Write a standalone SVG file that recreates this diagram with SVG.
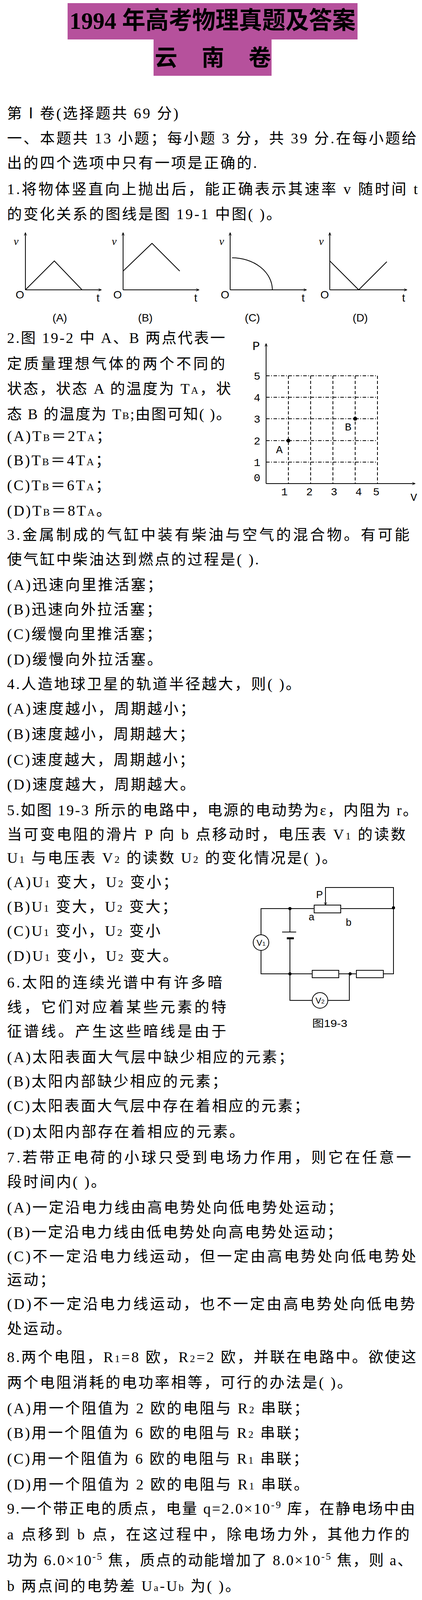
<svg xmlns="http://www.w3.org/2000/svg" width="1080" height="4303" viewBox="0 0 1080 4303">
<style>
.t{font-family:"Liberation Serif","Noto Sans CJK SC",serif;font-size:38px;letter-spacing:4px;fill:#000}
.s{font-size:26px}
.ln{stroke:#000;stroke-width:2;fill:none}
.lb{font-family:"Liberation Sans","Noto Sans CJK SC",sans-serif;font-size:28px;fill:#000}
.hd{stroke:#000;stroke-width:2;stroke-dasharray:9 4 2 4;fill:none}
.vd{stroke:#000;stroke-width:2;stroke-dasharray:8 5;fill:none}
</style>
<defs>
<marker id="ar" viewBox="0 0 10 10" refX="9" refY="5" markerWidth="8" markerHeight="8" orient="auto" markerUnits="userSpaceOnUse"><path d="M0,1 L10,5 L0,9" fill="none" stroke="#000" stroke-width="1.5"/></marker>
</defs>
<rect width="1080" height="4303" fill="#fff"/>
<g id="title">
<rect x="173" y="8" width="742" height="93" fill="#b6519c"/>
<rect x="393" y="100" width="302" height="94" fill="#b6519c"/>
<text x="178" y="74" font-family="'Liberation Serif','Noto Sans CJK SC',serif" font-weight="bold" font-size="62" textLength="732" lengthAdjust="spacingAndGlyphs">1994 年高考物理真题及答案</text>
<text x="396" y="168" font-family="'Noto Sans CJK SC',sans-serif" font-weight="bold" font-size="58" textLength="298" lengthAdjust="spacing">云 南 卷</text>
</g>
<g id="body">
<text class="t" x="18" y="303">第Ⅰ卷(选择题共 69 分)</text>
<text class="t" x="18" y="367" textLength="1052" lengthAdjust="spacing">一、本题共 13 小题；每小题 3 分，共 39 分.在每小题给</text>
<text class="t" x="18" y="430">出的四个选项中只有一项是正确的.</text>
<text class="t" x="18" y="497" textLength="1055" lengthAdjust="spacing">1.将物体竖直向上抛出后，能正确表示其速率 v 随时间 t</text>
<text class="t" x="18" y="561">的变化关系的图线是图 19-1 中图( )。</text>
<text class="t" x="18" y="878" textLength="562" lengthAdjust="spacing">2.图 19-2 中 A、B 两点代表一</text>
<text class="t" x="18" y="944" textLength="562" lengthAdjust="spacing">定质量理想气体的两个不同的</text>
<text class="t" x="18" y="1008" textLength="577" lengthAdjust="spacing">状态，状态 A 的温度为 T<tspan class="s">A</tspan>，状</text>
<text class="t" x="18" y="1073" textLength="577" lengthAdjust="spacing">态 B 的温度为 T<tspan class="s">B</tspan>;由图可知( )。</text>
<text class="t" x="18" y="1129">(A)T<tspan class="s">B</tspan>＝2T<tspan class="s">A</tspan>；</text>
<text class="t" x="18" y="1191">(B)T<tspan class="s">B</tspan>＝4T<tspan class="s">A</tspan>；</text>
<text class="t" x="18" y="1255">(C)T<tspan class="s">B</tspan>＝6T<tspan class="s">A</tspan>；</text>
<text class="t" x="18" y="1320">(D)T<tspan class="s">B</tspan>＝8T<tspan class="s">A</tspan>。</text>
<text class="t" x="18" y="1382" textLength="1034" lengthAdjust="spacing">3.金属制成的气缸中装有柴油与空气的混合物。有可能</text>
<text class="t" x="18" y="1445">使气缸中柴油达到燃点的过程是( ).</text>
<text class="t" x="18" y="1510">(A)迅速向里推活塞；</text>
<text class="t" x="18" y="1573">(B)迅速向外拉活塞；</text>
<text class="t" x="18" y="1636">(C)缓慢向里推活塞；</text>
<text class="t" x="18" y="1701">(D)缓慢向外拉活塞。</text>
<text class="t" x="18" y="1764">4.人造地球卫星的轨道半径越大，则( )。</text>
<text class="t" x="18" y="1827">(A)速度越小，周期越小；</text>
<text class="t" x="18" y="1892">(B)速度越小，周期越大；</text>
<text class="t" x="18" y="1958">(C)速度越大，周期越小；</text>
<text class="t" x="18" y="2021">(D)速度越大，周期越大。</text>
<text class="t" x="18" y="2087" textLength="1055" lengthAdjust="spacing">5.如图 19-3 所示的电路中，电源的电动势为ε，内阻为 r。</text>
<text class="t" x="18" y="2149" textLength="1024" lengthAdjust="spacing">当可变电阻的滑片 P 向 b 点移动时，电压表 V<tspan class="s">1</tspan> 的读数</text>
<text class="t" x="18" y="2209">U<tspan class="s">1</tspan> 与电压表 V<tspan class="s">2</tspan> 的读数 U<tspan class="s">2</tspan> 的变化情况是( )。</text>
<text class="t" x="18" y="2271">(A)U<tspan class="s">1</tspan> 变大，U<tspan class="s">2</tspan> 变小；</text>
<text class="t" x="18" y="2334">(B)U<tspan class="s">1</tspan> 变大，U<tspan class="s">2</tspan> 变大；</text>
<text class="t" x="18" y="2396">(C)U<tspan class="s">1</tspan> 变小，U<tspan class="s">2</tspan> 变小</text>
<text class="t" x="18" y="2460">(D)U<tspan class="s">1</tspan> 变小，U<tspan class="s">2</tspan> 变大。</text>
<text class="t" x="18" y="2528" textLength="555" lengthAdjust="spacing">6.太阳的连续光谱中有许多暗</text>
<text class="t" x="18" y="2591" textLength="565" lengthAdjust="spacing">线，它们对应着某些元素的特</text>
<text class="t" x="18" y="2653" textLength="565" lengthAdjust="spacing">征谱线。产生这些暗线是由于</text>
<text class="t" x="18" y="2719">(A)太阳表面大气层中缺少相应的元素；</text>
<text class="t" x="18" y="2781">(B)太阳内部缺少相应的元素；</text>
<text class="t" x="18" y="2844">(C)太阳表面大气层中存在着相应的元素；</text>
<text class="t" x="18" y="2910">(D)太阳内部存在着相应的元素。</text>
<text class="t" x="18" y="2976" textLength="1038" lengthAdjust="spacing">7.若带正电荷的小球只受到电场力作用，则它在任意一</text>
<text class="t" x="18" y="3038">段时间内( )。</text>
<text class="t" x="18" y="3104">(A)一定沿电力线由高电势处向低电势处运动；</text>
<text class="t" x="18" y="3167">(B)一定沿电力线由低电势处向高电势处运动；</text>
<text class="t" x="18" y="3229" textLength="1051" lengthAdjust="spacing">(C)不一定沿电力线运动，但一定由高电势处向低电势处</text>
<text class="t" x="18" y="3289">运动；</text>
<text class="t" x="18" y="3351" textLength="1048" lengthAdjust="spacing">(D)不一定沿电力线运动，也不一定由高电势处向低电势</text>
<text class="t" x="18" y="3414">处运动。</text>
<text class="t" x="18" y="3487" textLength="1051" lengthAdjust="spacing">8.两个电阻，R<tspan class="s">1</tspan>=8 欧，R<tspan class="s">2</tspan>=2 欧，并联在电路中。欲使这</text>
<text class="t" x="18" y="3552">两个电阻消耗的电功率相等，可行的办法是( )。</text>
<text class="t" x="18" y="3618">(A)用一个阻值为 2 欧的电阻与 R<tspan class="s">2</tspan> 串联；</text>
<text class="t" x="18" y="3681">(B)用一个阻值为 6 欧的电阻与 R<tspan class="s">2</tspan> 串联；</text>
<text class="t" x="18" y="3747">(C)用一个阻值为 6 欧的电阻与 R<tspan class="s">1</tspan> 串联；</text>
<text class="t" x="18" y="3813">(D)用一个阻值为 2 欧的电阻与 R<tspan class="s">1</tspan> 串联。</text>
<text class="t" x="18" y="3875" textLength="1048" lengthAdjust="spacing">9.一个带正电的质点，电量 q=2.0×10<tspan class="s" dy="-14">-9</tspan><tspan dy="14"> 库，在静电场中由</tspan></text>
<text class="t" x="18" y="3941" textLength="1034" lengthAdjust="spacing">a 点移到 b 点，在这过程中，除电场力外，其他力作的</text>
<text class="t" x="18" y="4007" textLength="1041" lengthAdjust="spacing">功为 6.0×10<tspan class="s" dy="-14">-5</tspan><tspan dy="14"> 焦，质点的动能增加了 8.0×10</tspan><tspan class="s" dy="-14">-5</tspan><tspan dy="14"> 焦，则 a、</tspan></text>
<text class="t" x="18" y="4073">b 两点间的电势差 U<tspan class="s">a</tspan>-U<tspan class="s">b</tspan> 为( )。</text>
<text class="t" x="18" y="4136">(A)3×10<tspan class="s" dy="-14">4</tspan><tspan dy="14">伏；</tspan></text>
<text class="t" x="387" y="4136">(B)1×10<tspan class="s" dy="-14">4</tspan><tspan dy="14">伏；</tspan></text>
<text class="t" x="18" y="4202">(C)4×10<tspan class="s" dy="-14">4</tspan><tspan dy="14">伏；</tspan></text>
<text class="t" x="385" y="4202">(D)7×10<tspan class="s" dy="-14">4</tspan><tspan dy="14">伏。</tspan></text>
<text x="1070" y="4292" text-anchor="end" font-family="'Liberation Serif',serif" font-size="24">28</text>
</g>
<g id="fig19-1">
<g id="graphA">
<path class="ln" d="M65,742 V596" marker-end="url(#ar)"/><path class="ln" d="M65,742 H259" marker-end="url(#ar)"/>
<path class="ln" d="M65,742 L139,668 L210,742"/>
<text x="35" y="627" font-family="'Liberation Serif',serif" font-style="italic" font-size="28">v</text>
<text class="lb" x="51" y="764" text-anchor="middle">O</text><text class="lb" x="251" y="772" text-anchor="middle">t</text>
<text class="lb" x="153" y="823" text-anchor="middle" font-size="22">(A)</text>
</g>
<g id="graphB">
<path class="ln" d="M315,742 V596" marker-end="url(#ar)"/><path class="ln" d="M315,742 H509" marker-end="url(#ar)"/>
<path class="ln" d="M315,694 L389,623 L460,694"/>
<text x="286" y="627" font-family="'Liberation Serif',serif" font-style="italic" font-size="28">v</text>
<text class="lb" x="301" y="764" text-anchor="middle">O</text><text class="lb" x="501" y="772" text-anchor="middle">t</text>
<text class="lb" x="372" y="823" text-anchor="middle" font-size="22">(B)</text>
</g>
<g id="graphC">
<path class="ln" d="M589,742 V596" marker-end="url(#ar)"/><path class="ln" d="M589,742 H784" marker-end="url(#ar)"/>
<path class="ln" d="M594,660 A103,82 0 0 1 697,742"/>
<text x="561" y="627" font-family="'Liberation Serif',serif" font-style="italic" font-size="28">v</text>
<text class="lb" x="576" y="764" text-anchor="middle">O</text><text class="lb" x="776" y="772" text-anchor="middle">t</text>
<text class="lb" x="646" y="823" text-anchor="middle" font-size="22">(C)</text>
</g>
<g id="graphD">
<path class="ln" d="M844,742 V596" marker-end="url(#ar)"/><path class="ln" d="M844,742 H1041" marker-end="url(#ar)"/>
<path class="ln" d="M844,668 L918,742 L990,670"/>
<text x="816" y="627" font-family="'Liberation Serif',serif" font-style="italic" font-size="28">v</text>
<text class="lb" x="831" y="764" text-anchor="middle">O</text><text class="lb" x="1033" y="772" text-anchor="middle">t</text>
<text class="lb" x="922" y="823" text-anchor="middle" font-size="22">(D)</text>
</g>
</g>
<g id="fig19-2">
<path class="hd" d="M681,962 H966 M681,1017 H966 M681,1072 H966 M681,1128 H966 M681,1183 H966"/>
<path class="vd" d="M738,962 V1238 M795,962 V1238 M852,962 V1238 M909,962 V1238 M966,962 V1238"/>
<path class="ln" d="M681,1238 V880" marker-end="url(#ar)"/>
<path class="ln" d="M681,1238 H1062" marker-end="url(#ar)"/>
<circle cx="738" cy="1128" r="5"/><circle cx="909" cy="1072" r="5"/>
<g font-family="'Liberation Mono',monospace" font-size="28">
<text x="646" y="896" font-size="32">P</text>
<text x="658" y="972" text-anchor="middle">5</text><text x="658" y="1027" text-anchor="middle">4</text><text x="658" y="1082" text-anchor="middle">3</text><text x="658" y="1138" text-anchor="middle">2</text><text x="658" y="1193" text-anchor="middle">1</text><text x="658" y="1232" text-anchor="middle">0</text>
<text x="728" y="1268" text-anchor="middle">1</text><text x="792" y="1268" text-anchor="middle">2</text><text x="855" y="1268" text-anchor="middle">3</text><text x="918" y="1268" text-anchor="middle">4</text><text x="963" y="1268" text-anchor="middle">5</text>
<text x="1059" y="1282" text-anchor="middle">V</text>
<text x="715" y="1160" text-anchor="middle">A</text><text x="891" y="1102" text-anchor="middle">B</text>
</g>
</g>
<g id="fig19-3">
<path class="ln" d="M833,2318 V2272 H1007 V2326"/>
<path class="ln" d="M833,2296 V2317" marker-end="url(#ar)"/>
<path class="ln" d="M668,2393 V2326 H804 M872,2326 H1007 V2493 H981 M912,2493 H867 M799,2493 H668 V2433"/>
<rect x="804" y="2317" width="68" height="20" class="ln"/>
<rect x="799" y="2484" width="68" height="19" class="ln"/>
<rect x="912" y="2484" width="69" height="19" class="ln"/>
<path class="ln" d="M742,2326 V2386 M722,2386 H758 M742,2402 V2493 V2561 H799 M839,2561 H894 V2493"/>
<path d="M734,2402 H752" stroke="#000" stroke-width="5"/>
<circle cx="668" cy="2413" r="20" class="ln"/>
<circle cx="819" cy="2561" r="20" class="ln"/>
<circle cx="742" cy="2326" r="4"/><circle cx="1007" cy="2324" r="4"/><circle cx="742" cy="2493" r="4"/><circle cx="896" cy="2493" r="4"/>
<g font-family="'Liberation Sans','Noto Sans CJK SC',sans-serif">
<text x="668" y="2421" text-anchor="middle" font-size="22">V<tspan font-size="15">1</tspan></text>
<text x="819" y="2569" text-anchor="middle" font-size="22">V<tspan font-size="15">2</tspan></text>
<text x="809" y="2299" font-size="26">P</text>
<text x="790" y="2356" font-size="26">a</text>
<text x="885" y="2370" font-size="26">b</text>
<text x="799" y="2629" font-size="26" textLength="90" lengthAdjust="spacingAndGlyphs">图19-3</text>
</g>
</g>
</svg>
